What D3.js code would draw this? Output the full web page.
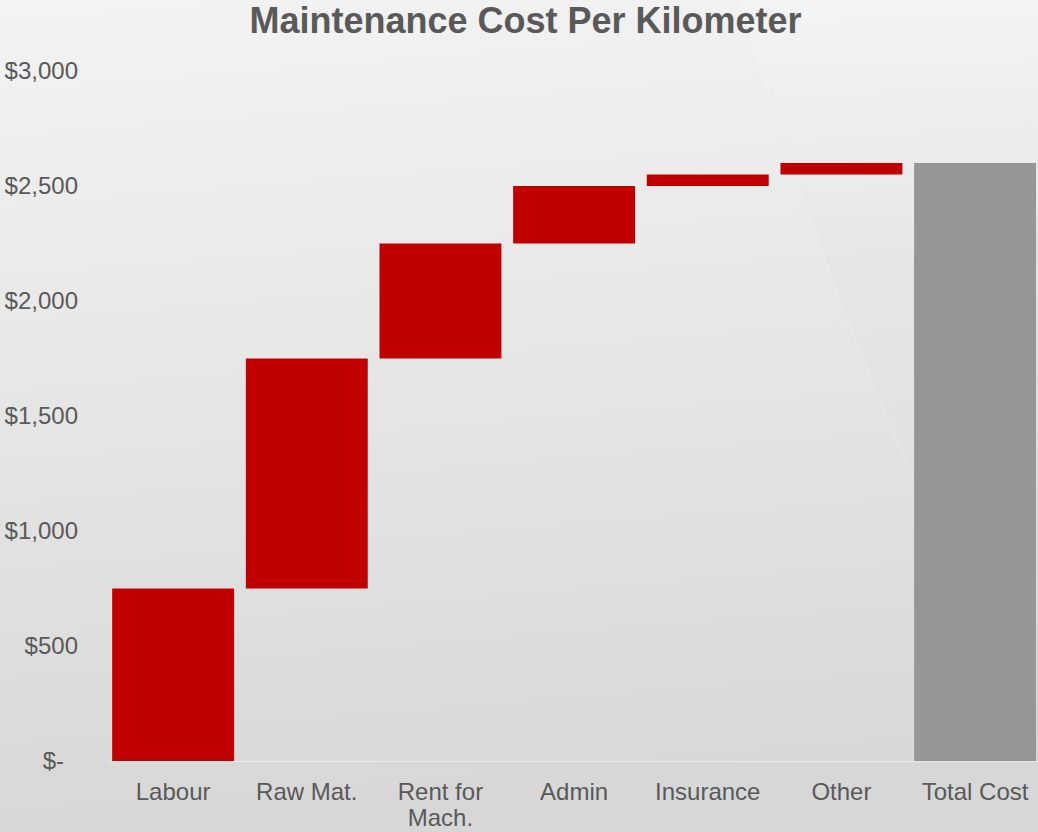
<!DOCTYPE html>
<html>
<head>
<meta charset="utf-8">
<script src="https://cdn.jsdelivr.net/npm/d3@7"></script>
<style>
  html, body { margin: 0; padding: 0; overflow: hidden; }
  svg { display: block; }
</style>
</head>
<body>
<svg id="chart" width="1038" height="832"></svg>
<script>
// ---- data ----
const categories = ["Labour", "Raw Mat.", "Rent for Mach.", "Admin", "Insurance", "Other", "Total Cost"];
const labelLines = [["Labour"], ["Raw Mat."], ["Rent for", "Mach."], ["Admin"], ["Insurance"], ["Other"], ["Total Cost"]];
const increments = [750, 1000, 500, 250, 50, 50];
const totalValue = 2600;
const yTicks = [0, 500, 1000, 1500, 2000, 2500, 3000];
const title = "Maintenance Cost Per Kilometer";

// ---- build waterfall table ----
let run = 0;
const rows = increments.map((v, i) => {
  const r = { cat: categories[i], start: run, end: run + v, total: false };
  run += v;
  return r;
});
rows.push({ cat: categories[6], start: 0, end: totalValue, total: true });

const W = 1038, H = 832;
const svg = d3.select("#chart");
const defs = svg.append("defs");

const bg = defs.append("linearGradient").attr("id", "bg")
  .attr("x1", 0).attr("y1", 0).attr("x2", 0.1).attr("y2", 1);
bg.append("stop").attr("offset", "0%").attr("stop-color", "#f3f3f3");
bg.append("stop").attr("offset", "55%").attr("stop-color", "#e4e4e4");
bg.append("stop").attr("offset", "100%").attr("stop-color", "#d7d7d7");

svg.append("rect").attr("width", W).attr("height", H).attr("fill", "url(#bg)");

// subtle shine wedge on the right
const wedge = defs.append("linearGradient").attr("id", "wedge")
  .attr("x1", 0).attr("y1", 0).attr("x2", 0).attr("y2", 1);
wedge.append("stop").attr("offset", "0%").attr("stop-color", "#ffffff").attr("stop-opacity", 0.2);
wedge.append("stop").attr("offset", "25%").attr("stop-color", "#ffffff").attr("stop-opacity", 0.0);
wedge.append("stop").attr("offset", "55%").attr("stop-color", "#000000").attr("stop-opacity", 0.012);
wedge.append("stop").attr("offset", "100%").attr("stop-color", "#000000").attr("stop-opacity", 0.0);
svg.append("path")
  .attr("d", "M738,0 C760,60 790,170 840,300 C870,380 895,440 915,480 L1038,480 L1038,0 Z")
  .attr("fill", "url(#wedge)");
svg.append("path")
  .attr("d", "M738,0 C760,60 790,170 840,300 C870,380 895,440 915,480")
  .attr("fill", "none").attr("stroke", "#ffffff").attr("stroke-opacity", 0.2).attr("stroke-width", 1.5);

// ---- scales ----
const x = d3.scaleBand()
  .domain(categories)
  .range([106.3, 1041.9])
  .paddingInner(0.088)
  .paddingOuter(0.044);

const y = d3.scaleLinear().domain([0, 3000]).range([761, 71]);

// baseline
svg.append("line")
  .attr("x1", 106).attr("x2", W)
  .attr("y1", y(0) + 0.5).attr("y2", y(0) + 0.5)
  .attr("stroke", "#e6e6e6").attr("stroke-width", 1.5);

// bars
svg.append("g").selectAll("rect").data(rows).join("rect")
  .attr("x", d => x(d.cat))
  .attr("width", x.bandwidth())
  .attr("y", d => y(d.end))
  .attr("height", d => y(d.start) - y(d.end))
  .attr("fill", d => d.total ? "#969696" : "#c00000");

// y axis (labels only)
const yAxis = d3.axisLeft(y).tickValues(yTicks).tickSize(0).tickPadding(0)
  .tickFormat(d => d === 0 ? "$-" : "$" + d3.format(",")(d));
const gy = svg.append("g").attr("transform", "translate(78,0)").call(yAxis);
gy.select(".domain").remove();
gy.selectAll("text")
  .attr("fill", "#595959")
  .style("font-family", "'Liberation Sans', Arial, sans-serif")
  .style("font-size", "24px")
  .attr("dy", "0.33em")
  .attr("x", d => d === 0 ? -14 : 0);

// x axis labels
const gx = svg.append("g");
gx.selectAll("text").data(categories).join("text")
  .attr("x", d => x(d) + x.bandwidth() / 2)
  .attr("y", 800)
  .attr("text-anchor", "middle")
  .attr("fill", "#595959")
  .style("font-family", "'Liberation Sans', Arial, sans-serif")
  .style("font-size", "24px")
  .each(function(d, i) {
    const t = d3.select(this);
    labelLines[i].forEach((ln, j) => {
      t.append("tspan").attr("x", x(d) + x.bandwidth() / 2).attr("dy", j === 0 ? 0 : 26).text(ln);
    });
  });

// title
svg.append("text")
  .attr("x", 525.5).attr("y", 33)
  .attr("text-anchor", "middle")
  .attr("fill", "#595959")
  .style("font-family", "'Liberation Sans', Arial, sans-serif")
  .style("font-size", "36px")
  .style("font-weight", "bold")
  .text(title);
</script>
</body>
</html>
